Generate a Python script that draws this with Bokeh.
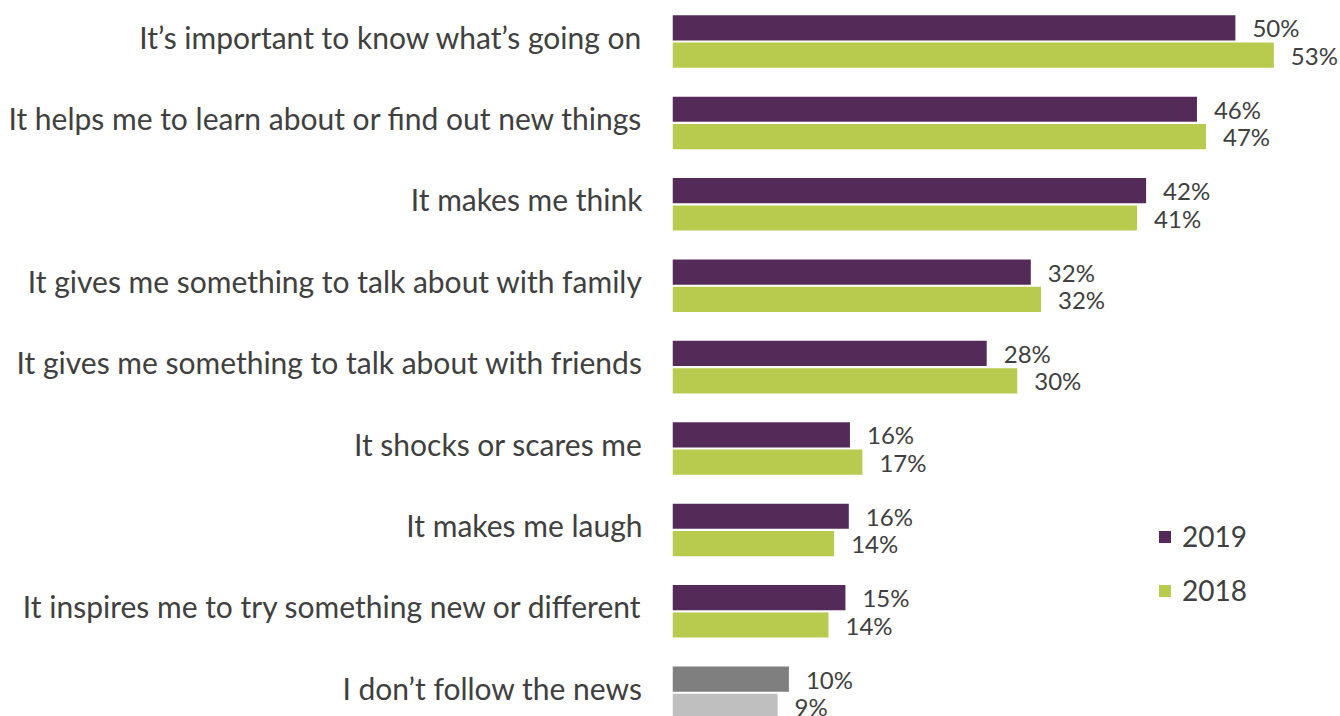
import numpy as np
from bokeh.plotting import figure
from bokeh.models import ColumnDataSource, Range1d, FixedTicker, Legend, LegendItem
from bokeh.transform import dodge
from bokeh.core.properties import value
from bokeh.embed import file_html
from bokeh.resources import INLINE

categories = [
    "It\u2019s important to know what\u2019s going on",
    "It helps me to learn about or find out new things",
    "It makes me think",
    "It gives me something to talk about with family",
    "It gives me something to talk about with friends",
    "It shocks or scares me",
    "It makes me laugh",
    "It inspires me to try something new or different",
    "I don\u2019t follow the news",
]
values_2019 = [49.8, 46.4, 41.9, 31.7, 27.8, 15.7, 15.6, 15.3, 10.3]
values_2018 = [53.2, 47.2, 41.1, 32.6, 30.5, 16.8, 14.3, 13.8, 9.3]
labels_2019 = ["50%", "46%", "42%", "32%", "28%", "16%", "16%", "15%", "10%"]
labels_2018 = ["53%", "47%", "41%", "32%", "30%", "17%", "14%", "14%", "9%"]
series = ["2019", "2018"]

PURPLE = "#542A58"
GREEN = "#B9CB4F"
DARK_GREY = "#7F7F7F"
LIGHT_GREY = "#BFBFBF"
TEXT = "#404040"
FONT = "Lato"

n = len(categories)
pos = np.arange(n)
# the "don't follow" row is shown in greys
col19 = [PURPLE] * (n - 1) + [DARK_GREY]
col18 = [GREEN] * (n - 1) + [LIGHT_GREY]

src19 = ColumnDataSource(dict(pos=pos, v=values_2019, lab=labels_2019, c=col19))
src18 = ColumnDataSource(dict(pos=pos, v=values_2018, lab=labels_2018, c=col18))

p = figure(
    width=1340, height=716,
    output_backend="svg", toolbar_location=None,
    x_range=Range1d(0, 59.1), y_range=Range1d(8.292, -0.504),
    x_axis_location=None,
    min_border_left=672, min_border_right=0, min_border_top=0, min_border_bottom=0,
)
p.outline_line_color = None
p.xgrid.visible = False
p.ygrid.visible = False
p.background_fill_color = "white"

OFF = 0.168
H = 0.31
r19 = p.hbar(y=dodge("pos", -OFF), right="v", left=0, height=H, source=src19,
             fill_color="c", line_color=None)
r18 = p.hbar(y=dodge("pos", OFF), right="v", left=0, height=H, source=src18,
             fill_color="c", line_color=None)

for src, off in ((src19, -OFF), (src18, OFF)):
    p.text(x="v", y=dodge("pos", off), text="lab", source=src,
           x_offset=17, text_baseline="middle", text_align="left",
           text_font=value(FONT), text_font_size="24px", text_color=TEXT)

# category labels, nudged slightly up to sit optically centred on each pair
LABEL_SHIFT = 0.06
tick_pos = [float(i) - LABEL_SHIFT for i in pos]
yax = p.yaxis[0]
yax.ticker = FixedTicker(ticks=tick_pos)
yax.major_label_overrides = {t: c for t, c in zip(tick_pos, categories)}
yax.major_label_text_font = FONT
yax.major_label_text_font_size = "30px"
yax.major_label_text_color = TEXT
yax.major_label_standoff = 30
yax.major_tick_out = 0
yax.major_tick_in = 0
yax.minor_tick_out = 0
yax.minor_tick_in = 0
yax.axis_line_color = None

legend = Legend(
    items=[LegendItem(label=series[0], renderers=[r19], index=0),
           LegendItem(label=series[1], renderers=[r18], index=0)],
    location=(485, 109),
    glyph_width=15, glyph_height=15, label_height=34, spacing=20,
    label_standoff=10, padding=0, margin=0,
    border_line_color=None, background_fill_alpha=0,
    label_text_font=FONT, label_text_font_size="28px", label_text_color=TEXT,
)
p.add_layout(legend)

open("out.html", "w").write(file_html(p, INLINE))
